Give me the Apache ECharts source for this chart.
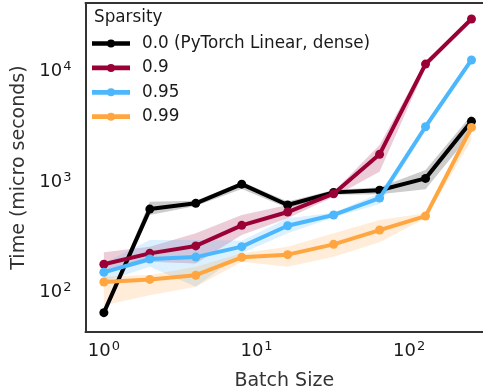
<!DOCTYPE html>
<html>
<head>
<meta charset="utf-8">
<script src="https://cdn.jsdelivr.net/npm/echarts@6/dist/echarts.min.js"></script>
<style>
html,body{margin:0;padding:0;background:#fff;}
#chart{width:483px;height:392px;}
</style>
</head>
<body>
<div id="chart"></div>
<script>
// ---- data ----
var batchSizes = [1, 2, 4, 8, 16, 32, 64, 128, 256];
var seriesNames = ['0.0 (PyTorch Linear, dense)', '0.9', '0.95', '0.99'];
var seriesColors = ['#000000', '#9a0036', '#4cb7fd', '#ffa640'];

var dense_mean = [66, 571, 644, 960, 622, 809, 845, 1083, 3557];
var dense_lo   = [63, 505, 610, 870, 585, 770, 780, 863, 2786];
var dense_hi   = [69, 665, 680, 1010, 670, 850, 900, 1288, 4055];

var s90_mean = [181, 227, 265, 407, 537, 787, 1787, 11720, 30000];
var s90_lo   = [150, 191, 184, 333, 471, 740, 1245, 10800, 29000];
var s90_hi   = [232, 261, 345, 505, 622, 820, 2172, 12500, 31000];

var s95_mean = [153, 202, 210, 261, 404, 505, 719, 3177, 12770];
var s95_lo   = [125, 172, 113, 227, 345, 480, 636, 2950, 12000];
var s95_hi   = [185, 300, 300, 296, 471, 530, 794, 3400, 13500];

var s99_mean = [125, 132, 144, 209, 221, 274, 369, 494, 3134];
var s99_lo   = [77, 95, 113, 191, 172, 212, 286, 471, 2400];
var s99_hi   = [140, 145, 172, 227, 261, 345, 455, 523, 3300];

var means = [dense_mean, s90_mean, s95_mean, s99_mean];
var los = [dense_lo, s90_lo, s95_lo, s99_lo];
var his = [dense_hi, s90_hi, s95_hi, s99_hi];

function hexToRgba(hex, a) {
  var r = parseInt(hex.slice(1,3),16), g = parseInt(hex.slice(3,5),16), b = parseInt(hex.slice(5,7),16);
  return 'rgba(' + r + ',' + g + ',' + b + ',' + a + ')';
}

function makeBandRender(fill) {
  return function (params, api) {
    if (params.dataIndex !== 0) return null;
    var n = params.dataInsideLength;
    var upper = [], lower = [];
    for (var i = 0; i < n; i++) {
      var x = api.value(0, i);
      upper.push(api.coord([x, api.value(2, i)]));
      lower.push(api.coord([x, api.value(1, i)]));
    }
    var pts = upper.concat(lower.reverse());
    return {
      type: 'polygon',
      shape: { points: pts },
      style: { fill: fill, stroke: null },
      silent: true
    };
  };
}

var legendIcon = 'path://M0,1.65 L38,1.65 L38,6.35 L0,6.35 Z M23,4 A4,4 0 1 1 15,4 A4,4 0 1 1 23,4 Z';

var series = [];
for (var k = 0; k < seriesNames.length; k++) {
  series.push({
    name: seriesNames[k] + ' band', type: 'custom',
    renderItem: makeBandRender(hexToRgba(seriesColors[k], 0.2)),
    data: batchSizes.map(function (x, i) { return [x, los[k][i], his[k][i]]; }),
    encode: { x: 0, y: [1, 2] },
    silent: true, z: 1
  });
}
for (var k = 0; k < seriesNames.length; k++) {
  series.push({
    name: seriesNames[k], type: 'line',
    data: batchSizes.map(function (x, i) { return [x, means[k][i]]; }),
    symbol: 'circle', symbolSize: 9, showSymbol: true,
    color: seriesColors[k],
    itemStyle: { color: seriesColors[k] },
    lineStyle: { color: seriesColors[k], width: 4 },
    z: 5 + k
  });
}

function powLabel(v) {
  var e = Math.log10(v);
  var r = Math.round(e);
  if (Math.abs(e - r) > 1e-6) return '';
  return '{b|10}{s|' + r + '}';
}
var richLab = {
  b: { fontSize: 18, fontFamily: 'DejaVu Sans', color: '#1a1a1a' },
  s: { fontSize: 13, fontFamily: 'DejaVu Sans', color: '#1a1a1a', padding: [0, 0, 10, 1] }
};

var xMin = 0.758, xMax = 304.6;
var chart = echarts.init(document.getElementById('chart'), null, { renderer: 'canvas' });
chart.setOption({
  animation: false,
  backgroundColor: '#ffffff',
  title: {
    text: 'Sparsity', left: 94, top: 9, padding: 0,
    textStyle: { fontFamily: 'DejaVu Sans', fontSize: 16.8, fontWeight: 'normal', color: '#1a1a1a' }
  },
  legend: {
    data: seriesNames.map(function (n) { return { name: n, icon: legendIcon }; }),
    orient: 'vertical', left: 92, top: 35, padding: 0,
    itemWidth: 38, itemHeight: 8, itemGap: 7.4,
    textStyle: { fontFamily: 'DejaVu Sans', fontSize: 16.8, color: '#1a1a1a', padding: [0, 0, 0, 7] }
  },
  grid: { left: 85.5, top: 3, right: 0, bottom: 60, show: false, containLabel: false, outerBoundsMode: 'none' },
  xAxis: [{
    type: 'log', logBase: 10, min: xMin, max: xMax,
    name: 'Batch Size', nameLocation: 'middle', nameGap: 40,
    nameTextStyle: { fontFamily: 'DejaVu Sans', fontSize: 19, color: '#333333' },
    axisLine: { show: true, lineStyle: { color: '#333333', width: 2 } },
    axisTick: { show: false },
    splitLine: { show: false },
    minorTick: { show: false },
    axisLabel: { formatter: powLabel, rich: richLab, margin: 8, showMinLabel: true, showMaxLabel: true }
  }, {
    type: 'log', logBase: 10, min: xMin, max: xMax, position: 'top',
    axisLine: { show: true, lineStyle: { color: '#333333', width: 2 } },
    axisTick: { show: false }, axisLabel: { show: false }, splitLine: { show: false }
  }],
  yAxis: {
    type: 'log', logBase: 10, min: 44.1, max: 41850,
    name: 'Time (micro seconds)', nameLocation: 'middle', nameGap: 57,
    nameTextStyle: { fontFamily: 'DejaVu Sans', fontSize: 19, color: '#333333' },
    axisLine: { show: true, lineStyle: { color: '#333333', width: 2 } },
    axisTick: { show: false },
    splitLine: { show: false },
    axisLabel: { formatter: powLabel, rich: richLab, margin: 14 }
  },
  series: series
});
</script>
</body>
</html>
